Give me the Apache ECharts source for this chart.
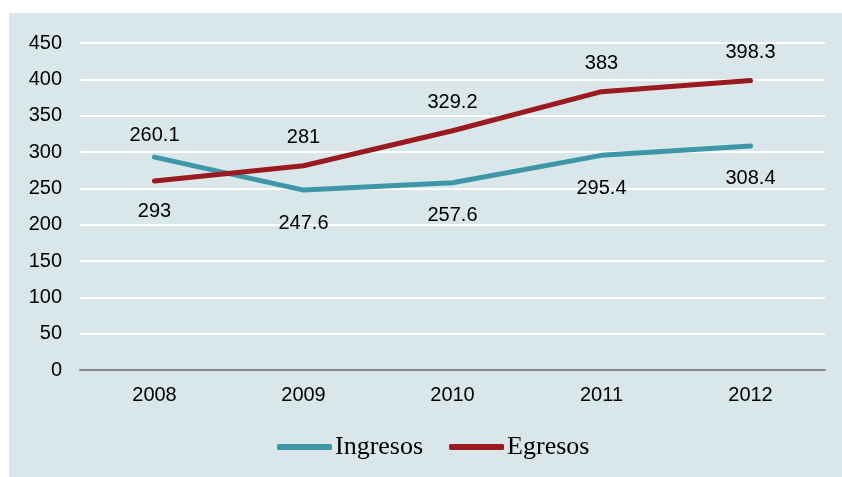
<!DOCTYPE html>
<html>
<head>
<meta charset="utf-8">
<script src="https://cdn.jsdelivr.net/npm/echarts@6/dist/echarts.min.js"></script>
<style>
  html, body { margin: 0; padding: 0; background: #ffffff; }
  #chart { width: 842px; height: 477px; }
</style>
</head>
<body>
<div id="chart"></div>
<script>
// Years on the category axis
const years = ['2008', '2009', '2010', '2011', '2012'];
// Series values
const ingresos = [293, 247.6, 257.6, 295.4, 308.4];
const egresos = [260.1, 281, 329.2, 383, 398.3];
// Value axis ticks
const yMin = 0;
const yMax = 450;
const yStep = 50;

const chart = echarts.init(document.getElementById('chart'), null, { renderer: 'canvas' });

const sansFont = 'Liberation Sans, Arial, sans-serif';
const labelStyle = { show: true, fontFamily: sansFont, fontSize: 20, color: '#000' };

// Where the two lines cross (first year) the labels are pushed clear of both lines
function withLabels(values, position, firstDistance) {
  return values.map((v, i) => (i === 0
    ? { value: v, label: { position: position, distance: firstDistance } }
    : v));
}

chart.setOption({
  backgroundColor: '#ffffff',
  animation: false,
  graphic: [{
    type: 'rect',
    left: 9, top: 13,
    shape: { width: 833, height: 464 },
    style: { fill: '#d9e7ea' },
    z: -10
  }],
  grid: { left: 80, right: 17, top: 43, bottom: 107 },
  legend: {
    top: 429,
    left: 272,
    itemWidth: 55,
    itemHeight: 6,
    itemGap: 26,
    icon: 'roundRect',
    textStyle: { fontFamily: 'Liberation Serif, Times New Roman, serif', fontSize: 26, color: '#000', padding: [0, 0, 0, -2] },
    data: ['Ingresos', 'Egresos']
  },
  xAxis: {
    type: 'category',
    data: years,
    boundaryGap: true,
    axisLine: { lineStyle: { color: '#8a8a8a', width: 2 } },
    axisTick: { show: false },
    axisLabel: { fontFamily: sansFont, fontSize: 20, color: '#000', margin: 15 }
  },
  yAxis: {
    type: 'value',
    min: yMin, max: yMax, interval: yStep,
    axisLine: { show: false },
    axisTick: { show: false },
    axisLabel: { fontFamily: sansFont, fontSize: 20, color: '#000', margin: 18 },
    splitLine: { lineStyle: { color: '#ffffff', width: 2 } }
  },
  series: [
    {
      name: 'Ingresos',
      type: 'line',
      data: withLabels(ingresos, 'bottom', 43),
      symbol: 'circle',
      symbolSize: 2,
      color: '#3e97a8',
      lineStyle: { width: 5, cap: 'round', join: 'round' },
      label: Object.assign({ position: 'bottom', distance: 22 }, labelStyle),
      z: 3
    },
    {
      name: 'Egresos',
      type: 'line',
      data: withLabels(egresos, 'top', 35),
      symbol: 'circle',
      symbolSize: 2,
      color: '#9a1a1f',
      lineStyle: { width: 5, cap: 'round', join: 'round' },
      label: Object.assign({ position: 'top', distance: 17 }, labelStyle),
      z: 4
    }
  ]
});
</script>
</body>
</html>
